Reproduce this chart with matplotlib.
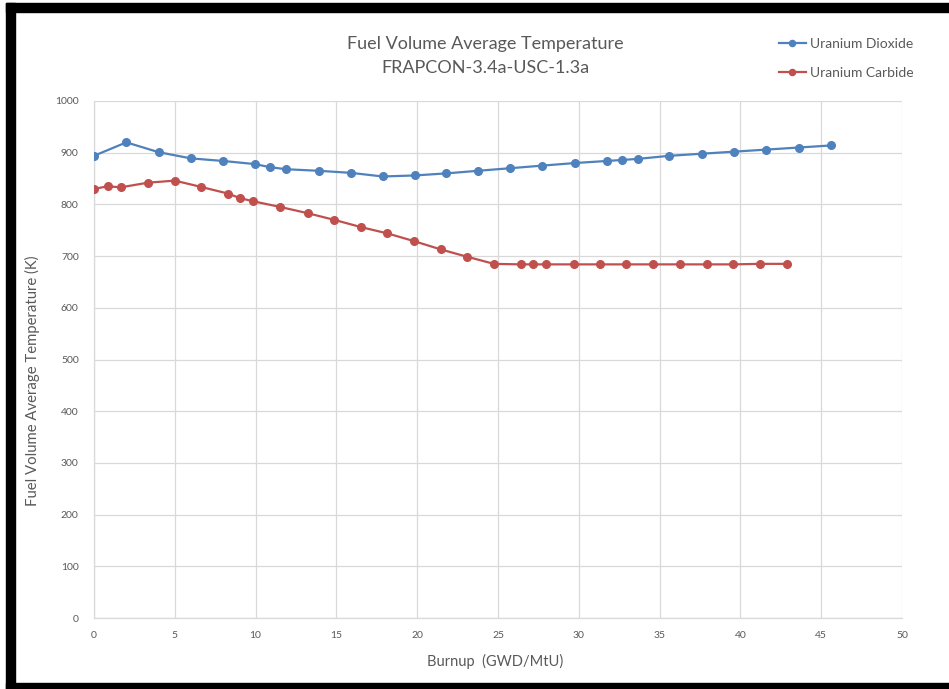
import matplotlib
matplotlib.use("Agg")
import matplotlib.pyplot as plt
from matplotlib.patches import Rectangle

plt.rcParams['font.family'] = ['Lato', 'DejaVu Sans']

# Data
uo2_burnup = [0, 2.0, 4.0, 6.0, 8.0, 9.94, 10.9, 11.9, 13.9, 15.9, 17.86, 19.86, 21.8,
              23.76, 25.76, 27.74, 29.75, 31.73, 32.7, 33.64, 35.6, 37.6, 39.6, 41.6, 43.6, 45.6]
uo2_temp = [894, 920, 901, 889, 884, 878, 872, 868, 865, 861, 854, 856, 860,
            865, 870, 875, 880, 884, 886, 888, 894, 898, 902, 906, 910, 914]

uc_burnup = [0, 0.85, 1.65, 3.34, 5.0, 6.6, 8.29, 9.04, 9.86, 11.53, 13.22, 14.88, 16.53,
             18.15, 19.8, 21.45, 23.06, 24.75, 26.4, 27.18, 28.0, 29.68, 31.33, 32.94,
             34.6, 36.26, 37.93, 39.54, 41.2, 42.86]
uc_temp = [830, 835, 833, 842, 846, 834, 821, 812, 806, 795, 783, 770, 756,
           744, 729, 713, 699, 685, 684, 684, 684, 684, 684, 684,
           684, 684, 684, 684, 685, 685]

x_ticks = list(range(0, 51, 5))
y_ticks = list(range(0, 1001, 100))

W, H = 949, 689
fig = plt.figure(figsize=(W / 100, H / 100), dpi=100)
fig.patch.set_facecolor('white')

ax = fig.add_axes([94 / W, 1 - 618 / H, (902 - 94) / W, (618 - 101) / H])

blue = '#4f81bd'
red = '#c0504d'
ax.plot(uo2_burnup, uo2_temp, color=blue, lw=1.6, marker='o', ms=5.5,
        label='Uranium Dioxide', zorder=3)
ax.plot(uc_burnup, uc_temp, color=red, lw=1.6, marker='o', ms=5.5,
        label='Uranium Carbide', zorder=3)

ax.set_xlim(0, 50)
ax.set_ylim(0, 1000)
ax.set_xticks(x_ticks)
ax.set_yticks(y_ticks)
ax.grid(True, color='#d9d9d9', lw=0.9)
ax.set_axisbelow(True)
for s in ['top', 'right']:
    ax.spines[s].set_visible(False)
for s in ['left', 'bottom']:
    ax.spines[s].set_color('#d9d9d9')
    ax.spines[s].set_linewidth(0.9)
ax.tick_params(length=0, labelsize=7.5, labelcolor='#595959', pad=9)
ax.tick_params(axis='y', pad=11)

ax.set_xlabel('Burnup  (GWD/MtU)', fontsize=10.5, color='#595959')
ax.set_ylabel('Fuel Volume Average Temperature (K)', fontsize=10.7, color='#595959')
ax.xaxis.set_label_coords((495 - 94) / 808, -(661 - 618) / 517)
ax.yaxis.set_label_coords(-(94 - 32) / 808, (618 - 381) / 517)
ax.xaxis.label.set_va('center')
ax.yaxis.label.set_va('center')

fig.text(485 / W, 1 - 44 / H, 'Fuel Volume Average Temperature', ha='center', va='center',
         fontsize=13, color='#595959')
fig.text(485 / W, 1 - 68 / H, 'FRAPCON-3.4a-USC-1.3a', ha='center', va='center',
         fontsize=13, color='#595959')

leg = fig.legend(loc='upper left', bbox_to_anchor=(766 / W, 1 - 25 / H), frameon=False,
                 fontsize=10, handlelength=2.0, handletextpad=0.25, labelspacing=1.25,
                 markerscale=0.8)
for t in leg.get_texts():
    t.set_color('#595959')

# black frame
k = 'black'
fig.patches.append(Rectangle((6 / W, 0), 9 / W, 1 - 3 / H, transform=fig.transFigure, color=k, zorder=10))
fig.patches.append(Rectangle((6 / W, 1 - 12 / H), 1, 9 / H, transform=fig.transFigure, color=k, zorder=10))
fig.patches.append(Rectangle((6 / W, 0), 1, 6 / H, transform=fig.transFigure, color=k, zorder=10))

fig.savefig('out.png', dpi=100, facecolor='white')
